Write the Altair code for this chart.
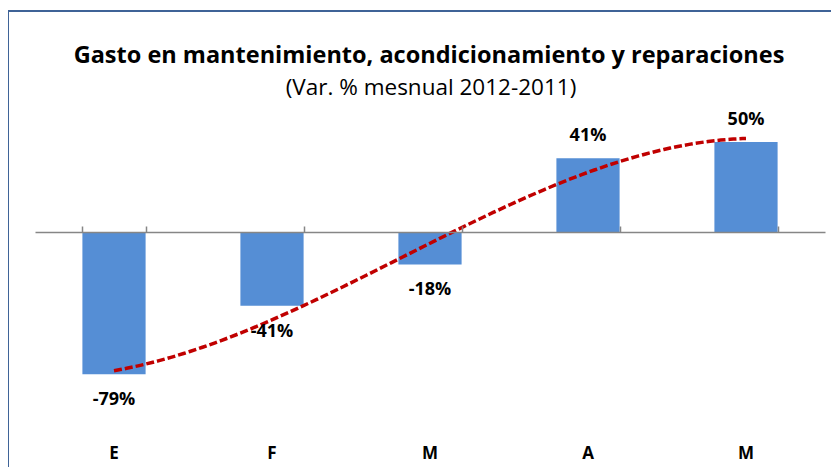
import altair as alt
import pandas as pd

meses = ["Ene", "Feb", "Mar", "Abr", "May"]
indice = [1, 2, 3, 4, 5]
valores = [-79, -41, -18, 41, 50]

titulo = "Gasto en mantenimiento, acondicionamiento  y reparaciones"
subtitulo = "(Var. % mesnual 2012-2011)"

df = pd.DataFrame({"mes": meses, "idx": indice, "valor": valores})

FONT = "Open Sans"
BAR = "#558ED5"
TREND = "#C00000"
BORDER = "#3F6397"

W, H = 790, 288
yscale = alt.Scale(domain=[-100, 60], nice=False, zero=False)


def xband():
    return alt.Scale(domain=meses, paddingInner=0.6, paddingOuter=0.3)


bars = alt.Chart(df).mark_bar(color=BAR).encode(
    x=alt.X("mes:N", sort=meses, scale=xband(),
            axis=alt.Axis(title=None, domain=False, ticks=False, labelAngle=0,
                          labelExpr="substring(datum.label, 0, 1)",
                          labelFont=FONT, labelFontSize=17, labelFontWeight="bold",
                          labelColor="black", labelPadding=33)),
    y=alt.Y("valor:Q", scale=yscale, axis=None),
)

zero_axis = alt.Chart(df).mark_bar(opacity=0).encode(
    x=alt.X("mes:N", sort=meses, scale=xband(),
            axis=alt.Axis(title=None, labels=False, domain=True, domainColor="#868686",
                          domainWidth=1.5, ticks=True, tickColor="#868686", tickWidth=1.5,
                          tickSize=6, tickBand="extent", offset=-(H - 100 * H / 160),
                          zindex=1)),
    y=alt.Y("valor:Q", scale=yscale, axis=None),
)

lbl = alt.Chart(df).transform_calculate(lbl="toString(datum.valor) + '%'")

pos_text = lbl.transform_filter("datum.valor >= 0").mark_text(
    font=FONT, fontSize=18, fontWeight="bold", color="black", baseline="middle", dy=-22
).encode(
    x=alt.X("mes:N", sort=meses, scale=xband(), axis=None),
    y=alt.Y("valor:Q", scale=yscale, axis=None),
    text="lbl:N",
)

neg_text = lbl.transform_filter("datum.valor < 0").mark_text(
    font=FONT, fontSize=18, fontWeight="bold", color="black", baseline="middle", dy=26
).encode(
    x=alt.X("mes:N", sort=meses, scale=xband(), axis=None),
    y=alt.Y("valor:Q", scale=yscale, axis=None),
    text="lbl:N",
)

trend = alt.Chart(df).transform_regression(
    "idx", "valor", method="poly", order=3, extent=[1, 5]
).mark_line(color=TREND, strokeDash=[8, 3], strokeWidth=3.5).encode(
    x=alt.X("idx:Q", scale=alt.Scale(domain=[0.5, 5.5], nice=False, zero=False), axis=None),
    y=alt.Y("valor:Q", scale=yscale, axis=None),
)

one = alt.Chart(pd.DataFrame({"k": [0]}))
top_border = one.mark_rule(color=BORDER, strokeWidth=2).encode(
    x=alt.value(-27), x2=alt.value(830), y=alt.value(-113)
)
left_border = one.mark_rule(color=BORDER, strokeWidth=2).encode(
    x=alt.value(-27), y=alt.value(-114), y2=alt.value(400)
)
title_mark = one.mark_text(
    text=titulo, font=FONT, fontSize=23.5, fontWeight="bold", color="black",
    align="center", baseline="alphabetic"
).encode(x=alt.value(W / 2 - 1), y=alt.value(-61))
subtitle_mark = one.mark_text(
    text=subtitulo, font=FONT, fontSize=22.5, color="black",
    align="center", baseline="middle"
).encode(x=alt.value(W / 2 + 1), y=alt.value(-36))

chart = alt.layer(
    bars, zero_axis, trend, pos_text, neg_text, top_border, left_border,
    title_mark, subtitle_mark
).resolve_scale(x="independent").resolve_axis(x="independent").properties(
    width=W, height=H,
    background="white",
    autosize=alt.AutoSizeParams(type="none"),
    padding={"left": 27, "top": 116, "right": 6, "bottom": 55},
).configure_view(stroke=None)

chart.save("out.html", embed_options={"renderer": "svg", "actions": False})
